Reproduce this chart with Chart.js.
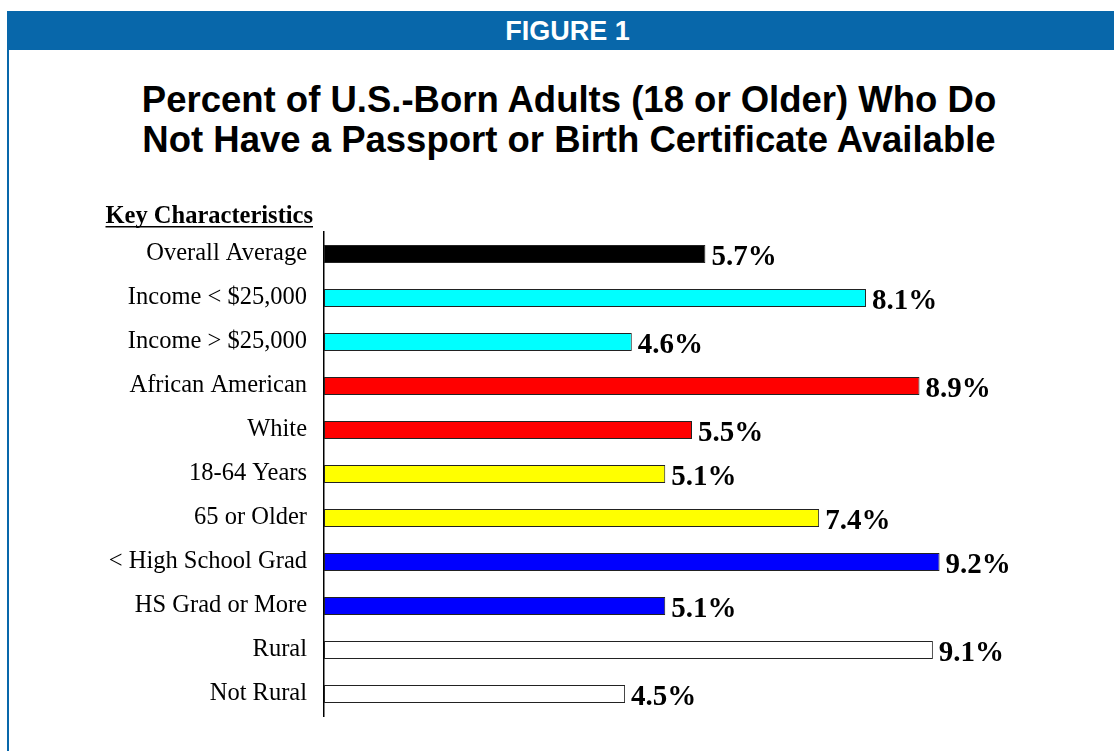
<!DOCTYPE html>
<html>
<head>
<meta charset="utf-8">
<script src="https://cdn.jsdelivr.net/npm/chart.js@4/dist/chart.umd.min.js"></script>
<style>
	html, body { margin: 0; padding: 0; background: #fff; }
	#page { position: relative; width: 1114px; height: 751px; overflow: hidden; }
	#header {
		position: absolute; left: 7px; top: 11px; width: 1107px; height: 39px;
		background: #0867aa; color: #fff; text-align: center;
		font: bold 27px "Liberation Sans", Arial, sans-serif; line-height: 40px;
	}
	#header span { position: relative; left: 7px; }
	#leftBorder { position: absolute; left: 7px; top: 50px; width: 2px; height: 701px; background: #0867aa; }
	#title {
		position: absolute; left: 9px; width: 1120px; top: 80px; text-align: center;
		font: bold 36.5px "Liberation Sans", Arial, sans-serif; line-height: 40px; color: #000;
	}
	canvas#barChart { position: absolute; left: 0; top: 0; }
</style>
</head>
<body>
<div id="page">
	<div id="header"><span>FIGURE 1</span></div>
	<div id="leftBorder"></div>
	<div id="title">Percent of U.S.-Born Adults (18 or Older) Who Do<br>Not Have a Passport or Birth Certificate Available</div>
	<canvas id="barChart" width="1114" height="751"></canvas>
</div>
<script>
"use strict";

const categories = ["Overall Average", "Income < $25,000", "Income > $25,000", "African American", "White",
	"18-64 Years", "65 or Older", "< High School Grad", "HS Grad or More", "Rural", "Not Rural"];
const percentValues = [5.7, 8.1, 4.6, 8.9, 5.5, 5.1, 7.4, 9.2, 5.1, 9.1, 4.5];
const barColors = ["#000000", "#00ffff", "#00ffff", "#ff0000", "#ff0000",
	"#ffff00", "#ffff00", "#0000ff", "#0000ff", "#ffffff", "#ffffff"];

const valueLabelPlugin = {
	id: "valueLabels",
	afterDatasetsDraw: chart => {
		let ctx = chart.ctx;
		ctx.save();
		ctx.font = "bold 29px 'Liberation Serif', 'Times New Roman', serif";
		ctx.fillStyle = "#000";
		ctx.textAlign = "left";
		ctx.textBaseline = "middle";
		chart.getDatasetMeta(0).data.forEach((bar, index) => {
			ctx.fillText(percentValues[index].toFixed(1) + "%", bar.x + 6, bar.y + 4);
		});
		// column heading above the category labels
		ctx.font = "bold 24.5px 'Liberation Serif', 'Times New Roman', serif";
		ctx.textAlign = "right";
		ctx.textBaseline = "alphabetic";
		let headingRight = chart.chartArea.left - 11;
		let headingWidth = ctx.measureText("Key Characteristics").width;
		ctx.fillText("Key Characteristics", headingRight, 223);
		ctx.fillRect(headingRight - headingWidth, 226, headingWidth, 1.5);
		ctx.restore();
	}
};

new Chart(document.querySelector("canvas#barChart"), {
	type: "bar",
	data: {
		labels: categories,
		datasets: [{
			data: percentValues,
			backgroundColor: barColors,
			borderColor: "#222",
			borderWidth: 1,
			borderSkipped: false,
			categoryPercentage: 1,
			barPercentage: 0.41
		}]
	},
	options: {
		indexAxis: "y",
		responsive: false,
		animation: false,
		layout: {
			padding: { top: 232, bottom: 35, left: 0, right: 54 }
		},
		scales: {
			x: {
				display: false,
				min: 0,
				max: 11
			},
			y: {
				afterFit: scale => { scale.width = 324; },
				grid: { display: false, drawTicks: false },
				border: { display: true, color: "#000", width: 1.5 },
				ticks: {
					padding: 17,
					color: "#000",
					font: { family: "'Liberation Serif', 'Times New Roman', serif", size: 24.5, lineHeight: 1.35 }
				}
			}
		},
		plugins: {
			legend: { display: false },
			tooltip: { enabled: false }
		}
	},
	plugins: [valueLabelPlugin]
});
</script>
</body>
</html>
